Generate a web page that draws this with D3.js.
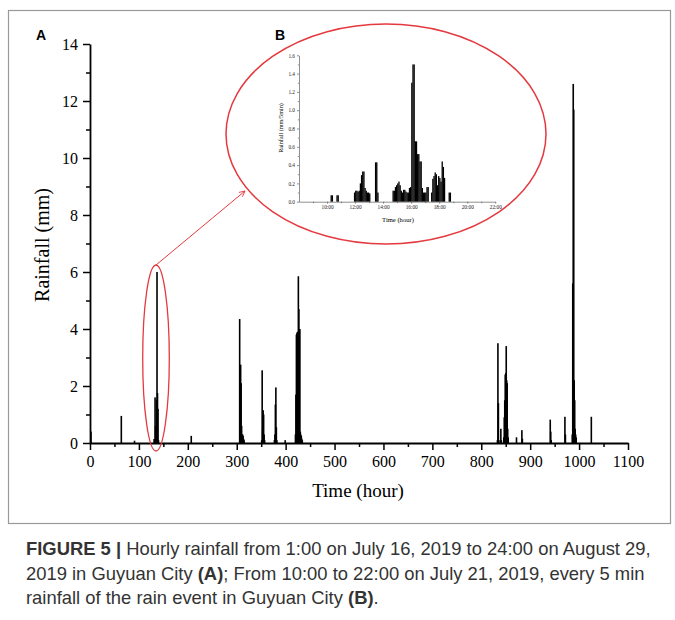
<!DOCTYPE html>
<html lang="en">
<head>
<meta charset="UTF-8">
<title>Hourly rainfall in Guyuan City</title>
<script src="https://d3js.org/d3.v7.min.js"></script>
<style>
  body { margin: 0; background: #fff; }
  svg { display: block; }
  .serif { font-family: "Liberation Serif", "DejaVu Serif", serif; fill: #000; }
  .panel { font-family: "Liberation Sans", Arial, sans-serif; font-weight: bold; font-size: 14px; }
  .caption { font-family: "Liberation Sans", Arial, sans-serif; font-size: 18.4px; fill: #333; }
  .axis path, .axis line { stroke: #000; }
</style>
</head>
<body>
<div id="chart"></div>
<script>
// (A) hourly rainfall, hour counted from 1:00 on July 16
const hours = [1, 63, 90,
  130, 132, 133, 134, 135, 136, 137, 138, 139,
  206,
  305, 306, 307, 308, 309, 310, 311, 312, 313, 314,
  350, 351, 352, 353, 354, 355, 356,
  376, 377, 378, 379, 380, 381,
  398,
  419, 420, 421, 422, 423, 424, 425, 426, 427, 428, 429, 430, 431, 432, 433,
  832, 833, 834, 835, 839, 840,
  845, 846, 847, 848, 849, 850, 851, 852, 853, 854,
  871, 882, 883,
  940, 941, 942, 970, 971,
  985, 986, 987, 988, 989, 990, 991, 992, 993,
  1024];
const rain = [0.4, 0.95, 0.08,
  0.14, 1.6, 0.6, 0.45, 1.5, 6.0, 1.75, 1.2, 0.1,
  0.25,
  4.35, 1.85, 2.75, 2.1, 0.6, 0.3, 0.3, 0.25, 0.15, 0.1,
  0.1, 2.55, 0.5, 1.15, 1.0, 0.3, 0.1,
  0.1, 0.3, 1.35, 1.95, 0.55, 0.1,
  0.1,
  0.3, 1.7, 3.8, 3.85, 3.9, 3.9, 5.85, 4.7, 4.0, 4.0, 0.4, 0.3, 0.25, 0.15, 0.1,
  0.1, 3.5, 1.4, 0.1, 0.5, 0.1,
  0.2, 0.9, 1.5, 2.4, 2.45, 3.4, 2.2, 2.1, 0.5, 0.2,
  0.2, 0.45, 0.15,
  0.82, 0.4, 0.1, 0.92, 0.3,
  0.3, 5.6, 12.6, 11.7, 2.2, 1.5, 0.5, 0.3, 0.2,
  0.92];

// (B) 5-min rainfall on July 21, 10:00-22:00
const insetTimes = ["10:15", "10:20", "10:40", "10:45",
  "11:55", "12:00", "12:05", "12:10", "12:15", "12:20", "12:25", "12:30", "12:35", "12:40", "12:45", "12:50", "12:55", "13:00",
  "13:25", "13:30", "13:35",
  "14:40", "14:45", "14:50", "14:55", "15:00", "15:05", "15:10", "15:15", "15:20", "15:25", "15:30", "15:35", "15:40", "15:45", "15:50", "15:55",
  "16:00", "16:05", "16:10", "16:15", "16:20", "16:25", "16:30", "16:35", "16:40", "16:45", "16:50", "16:55", "17:00", "17:05", "17:10",
  "17:25", "17:30", "17:35", "17:40", "17:45", "17:50", "17:55", "18:00", "18:05", "18:10", "18:15", "18:20", "18:40", "18:45"];
const insetRain = [0.07, 0.07, 0.07, 0.07,
  0.10, 0.12, 0.12, 0.11, 0.12, 0.20, 0.29, 0.33, 0.33, 0.15, 0.12, 0.10, 0.10, 0.09,
  0.43, 0.43, 0.10,
  0.12, 0.12, 0.16, 0.18, 0.20, 0.22, 0.18, 0.12, 0.10, 0.13, 0.13, 0.11, 0.10, 0.10, 0.15, 0.16,
  1.30, 1.50, 1.50, 0.66, 0.66, 0.52, 0.52, 0.44, 0.44, 0.15, 0.10, 0.10, 0.10, 0.16, 0.16,
  0.10, 0.25, 0.28, 0.32, 0.30, 0.18, 0.28, 0.26, 0.22, 0.44, 0.38, 0.26, 0.10, 0.10];

const xTicks = d3.range(0, 1101, 100);
const yTicks = d3.range(0, 15, 2);
const insetXTicks = ["10:00", "12:00", "14:00", "16:00", "18:00", "20:00", "22:00"];
const insetYTicks = [0, 0.2, 0.4, 0.6, 0.8, 1.0, 1.2, 1.4, 1.6];

const toMin = s => { const [h, m] = s.split(":").map(Number); return h * 60 + m; };

const svg = d3.select("#chart").append("svg")
  .attr("width", 675).attr("height", 620);

svg.append("rect").attr("width", 675).attr("height", 620).attr("fill", "#fff");
// figure frame
svg.append("rect").attr("x", 8.5).attr("y", 10.5).attr("width", 662).attr("height", 513)
  .attr("fill", "none").attr("stroke", "#999").attr("stroke-width", 1.2);

// ---------- main chart (A) ----------
const x = d3.scaleLinear().domain([0, 1100]).range([90, 628]);
const y = d3.scaleLinear().domain([0, 14]).range([443, 44]);

const barW = Math.max(x(1) - x(0), 1.6);
svg.append("g").selectAll("rect")
  .data(hours.map((h, i) => ({ h, v: rain[i] })))
  .join("rect")
  .attr("x", d => x(d.h) - 0.3)
  .attr("y", d => y(d.v))
  .attr("width", barW)
  .attr("height", d => y(0) - y(d.v))
  .attr("fill", "#000");

// minor ticks
svg.append("g").attr("class", "axis").attr("transform", "translate(0,443)")
  .call(d3.axisBottom(x).tickValues(d3.range(50, 1100, 100)).tickSize(4).tickFormat(""))
  .call(g => g.select(".domain").remove())
  .selectAll("line").attr("stroke-width", 1.5);
svg.append("g").attr("class", "axis").attr("transform", "translate(90,0)")
  .call(d3.axisLeft(y).tickValues(d3.range(1, 14, 2)).tickSize(4).tickFormat(""))
  .call(g => g.select(".domain").remove())
  .selectAll("line").attr("stroke-width", 1.5);

const xAxis = svg.append("g").attr("class", "axis").attr("transform", "translate(0,443)")
  .call(d3.axisBottom(x).tickValues(xTicks).tickFormat(d3.format("d"))
    .tickSize(7).tickSizeOuter(0).tickPadding(6));
xAxis.attr("font-size", 16).attr("font-family", "Liberation Serif");
xAxis.select(".domain").attr("stroke-width", 1.8);
xAxis.selectAll("line").attr("stroke-width", 1.5);
xAxis.selectAll("text").attr("fill", "#000");

const yAxis = svg.append("g").attr("class", "axis").attr("transform", "translate(90,0)")
  .call(d3.axisLeft(y).tickValues(yTicks).tickSize(7).tickSizeOuter(0).tickPadding(5));
yAxis.attr("font-size", 16).attr("font-family", "Liberation Serif");
yAxis.select(".domain").attr("stroke-width", 1.8);
yAxis.selectAll("line").attr("stroke-width", 1.5);
yAxis.selectAll("text").attr("fill", "#000");

svg.append("text").attr("class", "serif")
  .attr("transform", "translate(49,245) rotate(-90)")
  .attr("text-anchor", "middle").attr("font-size", 20)
  .text("Rainfall (mm)");
svg.append("text").attr("class", "serif")
  .attr("x", 358).attr("y", 497)
  .attr("text-anchor", "middle").attr("font-size", 19)
  .text("Time (hour)");

svg.append("text").attr("class", "panel").attr("x", 36).attr("y", 40).text("A");
svg.append("text").attr("class", "panel").attr("x", 275).attr("y", 40).text("B");

// ---------- red callout ----------
const red = "#e4393f";
svg.append("ellipse").attr("cx", 156).attr("cy", 358).attr("rx", 13.3).attr("ry", 93)
  .attr("fill", "none").attr("stroke", red).attr("stroke-width", 1.3);
svg.append("ellipse").attr("cx", 386).attr("cy", 134).attr("rx", 160).attr("ry", 110)
  .attr("fill", "none").attr("stroke", red).attr("stroke-width", 1.5);
svg.append("defs").append("marker")
  .attr("id", "arrow").attr("viewBox", "0 0 10 10").attr("refX", 9).attr("refY", 5)
  .attr("markerWidth", 7).attr("markerHeight", 7).attr("orient", "auto")
  .append("path").attr("d", "M1,1 L9,5 L1,9").attr("fill", "none").attr("stroke", red).attr("stroke-width", 1.2);
svg.append("line").attr("x1", 156).attr("y1", 265).attr("x2", 245).attr("y2", 191)
  .attr("stroke", red).attr("stroke-width", 1).attr("marker-end", "url(#arrow)");

// ---------- inset chart (B) ----------
const ix = d3.scaleLinear().domain([480, 1320]).range([299, 495.3]);
const iy = d3.scaleLinear().domain([0, 1.6]).range([201.7, 55.3]);
const inset = svg.append("g");

inset.append("g").selectAll("rect")
  .data(insetTimes.map((t, i) => ({ t: toMin(t), v: insetRain[i] })))
  .join("rect")
  .attr("x", d => ix(d.t))
  .attr("y", d => iy(d.v))
  .attr("width", ix(485) - ix(480) + 0.15)
  .attr("height", d => iy(0) - iy(d.v))
  .attr("fill", "#000");

inset.append("g").attr("transform", "translate(0,201.7)")
  .call(d3.axisBottom(ix).tickValues(insetXTicks.map(toMin))
    .tickFormat((d, i) => insetXTicks[i]).tickSize(2).tickSizeOuter(0).tickPadding(2));
inset.append("g").attr("transform", "translate(0,201.7)")
  .call(d3.axisBottom(ix).tickValues(d3.range(540, 1320, 120)).tickFormat("").tickSize(1.5))
  .call(g => g.select(".domain").remove());
inset.append("g").attr("transform", "translate(299,0)")
  .call(d3.axisLeft(iy).tickValues(insetYTicks).tickFormat(d3.format(".1f"))
    .tickSize(2).tickSizeOuter(0).tickPadding(2));
inset.append("g").attr("transform", "translate(299,0)")
  .call(d3.axisLeft(iy).tickValues(d3.range(0.1, 1.6, 0.2)).tickFormat("").tickSize(1.2))
  .call(g => g.select(".domain").remove());
inset.selectAll("path, line").attr("stroke", "#444").attr("stroke-width", 0.6);
inset.selectAll(".tick text").attr("font-size", 5.3).attr("font-family", "Liberation Serif").attr("fill", "#222");

inset.append("text").attr("class", "serif")
  .attr("transform", "translate(283,128) rotate(-90)")
  .attr("text-anchor", "middle").attr("font-size", 6.2).attr("fill", "#222")
  .text("Rainfall (mm/5min)");
inset.append("text").attr("class", "serif")
  .attr("x", 398).attr("y", 222)
  .attr("text-anchor", "middle").attr("font-size", 6.6).attr("fill", "#222")
  .text("Time (hour)");

// ---------- caption ----------
const cap = svg.append("text").attr("class", "caption");
const l1 = cap.append("tspan").attr("x", 26).attr("y", 555);
l1.append("tspan").attr("font-weight", "bold").text("FIGURE 5 |");
l1.append("tspan").text(" Hourly rainfall from 1:00 on July 16, 2019 to 24:00 on August 29,");
const l2 = cap.append("tspan").attr("x", 26).attr("y", 580);
l2.append("tspan").text("2019 in Guyuan City ");
l2.append("tspan").attr("font-weight", "bold").text("(A)");
l2.append("tspan").text("; From 10:00 to 22:00 on July 21, 2019, every 5 min");
const l3 = cap.append("tspan").attr("x", 26).attr("y", 604);
l3.append("tspan").text("rainfall of the rain event in Guyuan City ");
l3.append("tspan").attr("font-weight", "bold").text("(B)");
l3.append("tspan").text(".");
</script>
</body>
</html>
